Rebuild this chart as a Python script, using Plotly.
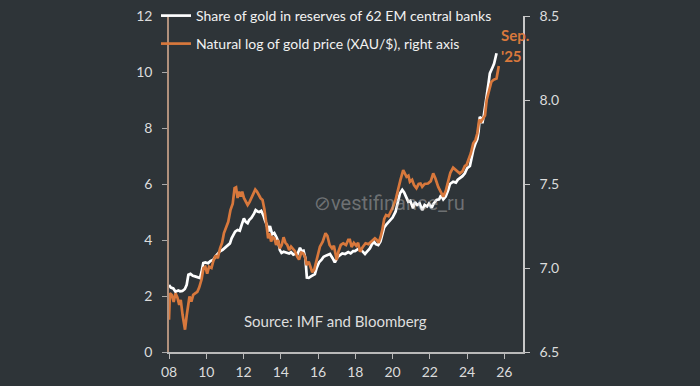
import plotly.graph_objects as go

# ---- data ----
share_years = [2008.00, 2008.10, 2008.23, 2008.35, 2008.50, 2008.59, 2008.72, 2008.85, 2008.95, 2009.04,
               2009.15, 2009.28, 2009.40, 2009.52, 2009.66, 2009.75, 2009.84, 2009.95, 2010.10, 2010.22,
               2010.38, 2010.50, 2010.62, 2010.74, 2010.88, 2011.00, 2011.12, 2011.27, 2011.36, 2011.45,
               2011.55, 2011.68, 2011.80, 2011.93, 2012.02, 2012.12, 2012.22, 2012.30, 2012.42, 2012.57,
               2012.65, 2012.75, 2012.85, 2012.95, 2013.06, 2013.15, 2013.25, 2013.33, 2013.42, 2013.54,
               2013.65, 2013.77, 2013.86, 2013.95, 2014.04, 2014.15, 2014.30, 2014.45, 2014.55, 2014.67,
               2014.80, 2014.90, 2015.03, 2015.12, 2015.22, 2015.32, 2015.40, 2015.50, 2015.62, 2015.74,
               2015.83, 2015.92, 2016.05, 2016.19, 2016.30, 2016.45, 2016.64, 2016.78, 2016.90, 2017.05,
               2017.17, 2017.30, 2017.45, 2017.62, 2017.75, 2017.88, 2017.98, 2018.10, 2018.20, 2018.35,
               2018.52, 2018.65, 2018.78, 2018.87, 2019.00, 2019.10, 2019.23, 2019.35, 2019.45, 2019.55,
               2019.65, 2019.78, 2019.90, 2020.00, 2020.16, 2020.28, 2020.40, 2020.52, 2020.62, 2020.72,
               2020.84, 2020.95, 2021.10, 2021.20, 2021.32, 2021.45, 2021.59, 2021.72, 2021.85, 2021.95,
               2022.10, 2022.20, 2022.36, 2022.50, 2022.60, 2022.72, 2022.85, 2022.99, 2023.08, 2023.25,
               2023.40, 2023.50, 2023.61, 2023.75, 2023.88, 2024.00, 2024.15, 2024.33, 2024.45, 2024.55,
               2024.62, 2024.68, 2024.75, 2024.82, 2024.90, 2025.00, 2025.08, 2025.15, 2025.22, 2025.30,
               2025.38, 2025.45, 2025.52, 2025.58]
share_gold = [2.39, 2.30, 2.27, 2.15, 2.20, 2.17, 2.18, 2.25, 2.40, 2.76,
              2.79, 2.72, 2.70, 2.66, 2.64, 2.87, 3.18, 3.20, 3.17, 3.25,
              3.30, 3.42, 3.50, 3.60, 3.65, 3.72, 3.80, 3.88, 4.06, 4.20,
              4.30, 4.36, 4.33, 4.60, 4.77, 4.65, 4.60, 4.71, 4.79, 4.95,
              5.07, 5.02, 5.00, 5.04, 4.89, 4.70, 4.54, 4.30, 4.50, 4.20,
              4.25, 4.10, 3.95, 3.64, 3.54, 3.58, 3.55, 3.52, 3.56, 3.48,
              3.52, 3.50, 3.72, 3.60, 3.62, 3.35, 2.66, 2.65, 2.70, 2.76,
              2.78, 2.99, 3.20, 3.30, 3.40, 3.45, 3.50, 3.35, 3.20, 3.40,
              3.45, 3.52, 3.50, 3.57, 3.52, 3.60, 3.60, 3.66, 3.70, 3.62,
              3.50, 3.60, 3.70, 3.82, 3.94, 3.85, 3.82, 3.95, 4.24, 4.45,
              4.54, 4.65, 4.71, 4.80, 5.01, 5.31, 5.67, 5.79, 5.70, 5.55,
              5.37, 5.40, 5.13, 5.35, 5.25, 5.31, 5.07, 5.25, 5.20, 5.30,
              5.15, 5.30, 5.43, 5.45, 5.60, 5.45, 5.55, 5.79, 6.00, 6.08,
              6.05, 6.15, 6.20, 6.28, 6.38, 6.56, 6.64, 7.21, 7.45, 7.60,
              7.90, 8.40, 8.35, 8.17, 8.46, 9.00, 9.40, 9.60, 9.95, 10.05,
              10.19, 10.30, 10.49, 10.67]

price_years = [2008.00, 2008.05, 2008.15, 2008.25, 2008.35, 2008.45, 2008.55, 2008.63, 2008.73, 2008.86,
               2008.95, 2009.02, 2009.10, 2009.20, 2009.30, 2009.42, 2009.52, 2009.62, 2009.75, 2009.85,
               2009.95, 2010.05, 2010.15, 2010.28, 2010.38, 2010.50, 2010.62, 2010.74, 2010.85, 2010.95,
               2011.05, 2011.18, 2011.30, 2011.42, 2011.52, 2011.60, 2011.68, 2011.76, 2011.85, 2011.93,
               2012.02, 2012.12, 2012.22, 2012.32, 2012.45, 2012.55, 2012.63, 2012.72, 2012.82, 2012.92,
               2013.02, 2013.12, 2013.22, 2013.32, 2013.40, 2013.48, 2013.57, 2013.66, 2013.75, 2013.85,
               2013.95, 2014.05, 2014.15, 2014.25, 2014.35, 2014.45, 2014.55, 2014.65, 2014.76, 2014.88,
               2014.98, 2015.10, 2015.20, 2015.30, 2015.39, 2015.50, 2015.60, 2015.69, 2015.80, 2015.90,
               2016.00, 2016.10, 2016.25, 2016.40, 2016.50, 2016.62, 2016.75, 2016.85, 2017.00, 2017.10,
               2017.22, 2017.35, 2017.50, 2017.62, 2017.71, 2017.80, 2017.92, 2018.05, 2018.15, 2018.25,
               2018.40, 2018.55, 2018.70, 2018.85, 2018.96, 2019.05, 2019.15, 2019.25, 2019.35, 2019.45,
               2019.55, 2019.65, 2019.78, 2019.90, 2020.00, 2020.16, 2020.28, 2020.42, 2020.57, 2020.65,
               2020.75, 2020.85, 2020.93, 2021.05, 2021.15, 2021.28, 2021.40, 2021.50, 2021.59, 2021.72,
               2021.90, 2022.05, 2022.18, 2022.30, 2022.45, 2022.58, 2022.72, 2022.85, 2022.99, 2023.10,
               2023.25, 2023.38, 2023.50, 2023.61, 2023.75, 2023.88, 2023.97, 2024.10, 2024.20, 2024.33,
               2024.45, 2024.55, 2024.65, 2024.75, 2024.85, 2024.96, 2025.05, 2025.15, 2025.22, 2025.30,
               2025.42, 2025.58, 2025.70]
log_gold_price = [6.692, 6.850, 6.840, 6.798, 6.850, 6.825, 6.780, 6.810, 6.720, 6.633,
                  6.717, 6.770, 6.830, 6.800, 6.840, 6.850, 6.858, 6.883, 6.933, 7.000,
                  7.008, 6.967, 7.008, 7.000, 7.042, 7.075, 7.058, 7.117, 7.150, 7.208,
                  7.233, 7.275, 7.345, 7.383, 7.475, 7.480, 7.417, 7.455, 7.425, 7.455,
                  7.417, 7.395, 7.375, 7.392, 7.425, 7.450, 7.467, 7.455, 7.433, 7.415,
                  7.405, 7.350, 7.267, 7.177, 7.207, 7.157, 7.183, 7.177, 7.137, 7.167,
                  7.117, 7.137, 7.183, 7.150, 7.137, 7.107, 7.127, 7.117, 7.100, 7.067,
                  7.050, 7.092, 7.087, 7.067, 7.017, 7.038, 7.000, 6.975, 6.992, 7.038,
                  7.083, 7.127, 7.157, 7.207, 7.192, 7.137, 7.117, 7.133, 7.048, 7.100,
                  7.137, 7.147, 7.137, 7.167, 7.167, 7.125, 7.150, 7.133, 7.150, 7.097,
                  7.125, 7.147, 7.142, 7.158, 7.167, 7.177, 7.167, 7.150, 7.183, 7.227,
                  7.292, 7.315, 7.308, 7.333, 7.358, 7.405, 7.465, 7.523, 7.583, 7.567,
                  7.543, 7.550, 7.513, 7.525, 7.493, 7.475, 7.500, 7.503, 7.483, 7.500,
                  7.503, 7.517, 7.563, 7.533, 7.483, 7.455, 7.425, 7.458, 7.523, 7.567,
                  7.597, 7.583, 7.575, 7.563, 7.575, 7.607, 7.613, 7.650, 7.683, 7.742,
                  7.762, 7.802, 7.883, 7.872, 7.892, 7.908, 8.000, 8.050, 8.083, 8.108,
                  8.120, 8.128, 8.203]

x_tick_vals = [2008, 2010, 2012, 2014, 2016, 2018, 2020, 2022, 2024, 2026]
x_tick_text = ["08", "10", "12", "14", "16", "18", "20", "22", "24", "26"]
left_ticks = [0, 2, 4, 6, 8, 10, 12]
right_ticks = [6.5, 7.0, 7.5, 8.0, 8.5]

series_names = ["Share of gold in reserves of 62 EM central banks",
                "Natural log of gold price (XAU/$), right axis"]

# ---- styling ----
BG = "#2e3438"
WHITE = "#ffffff"
ORANGE = "#d8783c"
TICKFONT = dict(family="Lato, Roboto, sans-serif", size=14, color="#dcdcdc")
PL, PR, PT, PB = 169, 523, 16, 352  # plot area in pixels
PW, PH = PR - PL, PB - PT

fig = go.Figure()
fig.add_trace(go.Scatter(x=share_years, y=share_gold, mode="lines",
                         line=dict(color=WHITE, width=2.7), name=series_names[0],
                         yaxis="y", legend="legend"))
fig.add_trace(go.Scatter(x=price_years, y=log_gold_price, mode="lines",
                         line=dict(color=ORANGE, width=2.7), name=series_names[1],
                         yaxis="y2", legend="legend2"))

legend_font = dict(family="Lato, Roboto, sans-serif", size=14, color="#f2f2f2")
fig.update_layout(
    width=700, height=386,
    paper_bgcolor=BG, plot_bgcolor=BG,
    margin=dict(l=PL, r=700 - PR, t=PT, b=386 - PB, autoexpand=False),
    showlegend=True,
    legend=dict(x=(156 - PL) / PW, y=(PB - 16) / PH,
                xanchor="left", yanchor="middle", bgcolor="rgba(0,0,0,0)",
                font=legend_font, borderwidth=0),
    legend2=dict(x=(156 - PL) / PW, y=(PB - 44) / PH,
                 xanchor="left", yanchor="middle", bgcolor="rgba(0,0,0,0)",
                 font=legend_font, borderwidth=0),
    xaxis=dict(range=[2008, 2027], tickvals=x_tick_vals, ticktext=x_tick_text,
               showgrid=False, zeroline=False, showline=True, linecolor="#b9b9b9",
               linewidth=1.5, ticks="outside", ticklen=5, tickcolor="#b9b9b9",
               tickfont=TICKFONT, ticklabelstandoff=1),
    yaxis=dict(range=[0, 12], tickvals=left_ticks, showgrid=False, zeroline=False,
               showline=True, linecolor="#b0907c", linewidth=1.5, ticks="outside",
               ticklen=5, tickcolor="#a9a9a9", tickfont=TICKFONT, ticklabelstandoff=7),
    yaxis2=dict(range=[6.5, 8.5], tickvals=right_ticks, tickformat=".1f", overlaying="y",
                side="right", showgrid=False, zeroline=False, showline=True,
                linecolor="#c8c8c8", linewidth=1.5, ticks="outside", ticklen=5,
                tickcolor="#c8c8c8", tickfont=TICKFONT, ticklabelstandoff=7),
)

fig.add_annotation(text="<b>Sep.</b>", x=2025.7, y=11.32, xref="x", yref="y",
                   xanchor="left", yanchor="middle", showarrow=False,
                   font=dict(family="Lato, Roboto, sans-serif", size=15, color=ORANGE))
fig.add_annotation(text="<b>'25</b>", x=2025.7, y=10.57, xref="x", yref="y",
                   xanchor="left", yanchor="middle", showarrow=False,
                   font=dict(family="Lato, Roboto, sans-serif", size=15, color=ORANGE))
fig.add_annotation(text="Source: IMF and Bloomberg", x=(335 - PL) / PW, y=(PB - 321) / PH,
                   xref="paper", yref="paper", xanchor="center", yanchor="middle",
                   showarrow=False,
                   font=dict(family="Lato, Roboto, sans-serif", size=15, color="#dedede"))
fig.add_annotation(text="⊘vestifinance_ru", x=(312 - PL) / PW, y=(PB - 203) / PH,
                   xref="paper", yref="paper", xanchor="left", yanchor="middle",
                   showarrow=False,
                   font=dict(family="Roboto, sans-serif", size=20, color="rgba(190,190,190,0.45)"))

page_fix = ("document.body.style.margin='0';document.body.style.padding='0';"
            "document.body.style.background='" + BG + "';"
            "document.documentElement.style.overflow='hidden';")
fig.write_html("out.html", post_script=page_fix, config={"displayModeBar": False})
